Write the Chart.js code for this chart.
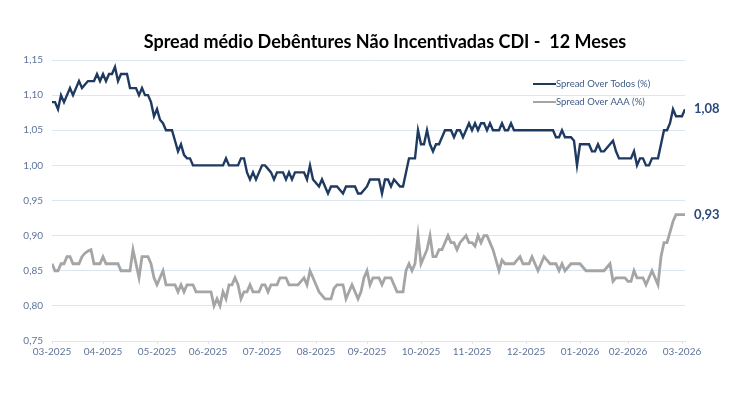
<!DOCTYPE html>
<html>
<head>
<meta charset="utf-8">
<script src="https://cdn.jsdelivr.net/npm/chart.js@4.4.1/dist/chart.umd.min.js"></script>
<style>
	html, body { margin: 0; padding: 0; background: #ffffff; }
	#wrap { width: 738px; height: 397px; }
</style>
</head>
<body>
<div id="wrap"><canvas id="spread_chart" width="738" height="397"></canvas></div>
<script>
// leituras diárias (aprox.) de 03-2025 a 03-2026
const spreadTodos = [
	1.09,1.09,1.08,1.10,1.09,1.10,1.11,1.10,1.11,1.12,
	1.11,1.115,1.12,1.12,1.12,1.13,1.12,1.13,1.12,1.13,
	1.13,1.14,1.12,1.13,1.13,1.13,1.11,1.11,1.11,1.10,
	1.11,1.10,1.10,1.09,1.07,1.08,1.065,1.06,1.05,1.05,
	1.05,1.035,1.02,1.03,1.015,1.01,1.01,1.00,1.00,1.00,
	1.00,1.00,1.00,1.00,1.00,1.00,1.00,1.00,1.01,1.00,
	1.00,1.00,1.00,1.01,1.01,0.99,0.98,0.99,0.98,0.99,
	1.00,1.00,0.995,0.99,0.98,0.99,0.99,0.99,0.98,0.99,
	0.98,0.99,0.99,0.99,0.99,0.98,1.00,0.98,0.975,0.97,
	0.98,0.97,0.96,0.97,0.97,0.97,0.965,0.96,0.97,0.97,
	0.97,0.97,0.96,0.96,0.965,0.97,0.98,0.98,0.98,0.98,
	0.96,0.98,0.98,0.97,0.98,0.975,0.97,0.97,0.99,1.01,
	1.01,1.01,1.05,1.03,1.03,1.05,1.03,1.02,1.03,1.03,
	1.04,1.05,1.05,1.05,1.04,1.05,1.05,1.04,1.05,1.06,
	1.05,1.06,1.05,1.06,1.06,1.05,1.06,1.05,1.05,1.05,
	1.06,1.05,1.05,1.06,1.05,1.05,1.05,1.05,1.05,1.05,
	1.05,1.05,1.05,1.05,1.05,1.05,1.05,1.05,1.04,1.04,
	1.05,1.04,1.04,1.04,1.035,1.00,1.03,1.03,1.03,1.03,
	1.02,1.02,1.03,1.02,1.02,1.025,1.03,1.035,1.02,1.01,
	1.01,1.01,1.01,1.01,1.02,1.00,1.01,1.01,1.00,1.00,
	1.01,1.01,1.01,1.03,1.05,1.05,1.06,1.08,1.07,1.07,
	1.07,1.08
];

const spreadAAA = [
	0.86,0.85,0.85,0.86,0.86,0.87,0.87,0.86,0.86,0.86,
	0.87,0.875,0.878,0.88,0.86,0.86,0.86,0.87,0.86,0.86,
	0.86,0.86,0.86,0.85,0.85,0.85,0.85,0.88,0.86,0.84,
	0.87,0.87,0.87,0.86,0.84,0.83,0.84,0.85,0.83,0.83,
	0.83,0.83,0.82,0.83,0.82,0.83,0.83,0.83,0.82,0.82,
	0.82,0.82,0.82,0.82,0.80,0.81,0.80,0.82,0.81,0.83,
	0.83,0.84,0.83,0.81,0.82,0.82,0.83,0.82,0.82,0.82,
	0.83,0.83,0.82,0.83,0.83,0.83,0.84,0.84,0.84,0.83,
	0.83,0.83,0.83,0.835,0.84,0.83,0.85,0.84,0.83,0.82,
	0.815,0.81,0.81,0.81,0.825,0.83,0.83,0.83,0.81,0.82,
	0.83,0.82,0.81,0.82,0.84,0.85,0.83,0.84,0.84,0.84,
	0.83,0.84,0.84,0.84,0.83,0.82,0.82,0.82,0.85,0.86,
	0.85,0.86,0.90,0.86,0.87,0.88,0.90,0.87,0.87,0.88,
	0.88,0.89,0.90,0.89,0.89,0.88,0.89,0.895,0.90,0.89,
	0.89,0.885,0.90,0.89,0.90,0.90,0.89,0.88,0.865,0.85,
	0.865,0.86,0.86,0.86,0.86,0.865,0.87,0.86,0.86,0.86,
	0.87,0.86,0.85,0.86,0.87,0.865,0.86,0.86,0.86,0.85,
	0.86,0.85,0.855,0.86,0.86,0.86,0.86,0.855,0.85,0.85,
	0.85,0.85,0.85,0.85,0.85,0.855,0.86,0.835,0.84,0.84,
	0.84,0.84,0.835,0.835,0.85,0.84,0.84,0.84,0.83,0.84,
	0.85,0.84,0.83,0.87,0.89,0.89,0.905,0.92,0.93,0.93,
	0.93,0.93
];

const monthLabels = ['03-2025','04-2025','05-2025','06-2025','07-2025','08-2025','09-2025',
	'10-2025','11-2025','12-2025','01-2026','02-2026','03-2026'];
const monthStart = [0,17,35,52,70,88,105,123,140,158,176,192,210];

const seriesNames = ['Spread Over Todos (%)', 'Spread Over AAA (%)'];
const chartTitle = 'Spread médio Debêntures Não Incentivadas CDI -  12 Meses';

const FONT = 'Lato, "Noto Sans", sans-serif';
const TICK_COLOR = '#5f7499';
const GRID_COLOR = '#dbe6f3';
const COLORS = ['#1f3a60', '#a5a5a5'];

const fmt = v => v.toFixed(2).replace('.', ',');

// titulo, legenda e rotulos finais
const overlay = {
	id: 'overlay',
	afterDraw(chart) {
		var ctx = chart.ctx;
		ctx.save();
		ctx.fillStyle = '#000000';
		ctx.font = 'bold 18px ' + FONT;
		ctx.textAlign = 'center';
		ctx.textBaseline = 'middle';
		ctx.fillText(chartTitle, 385, 42);

		// legenda
		ctx.font = '9.5px ' + FONT;
		ctx.textAlign = 'left';
		seriesNames.forEach(function (name, i) {
			var y = 84 + i * 18;
			ctx.strokeStyle = COLORS[i];
			ctx.lineWidth = 2;
			ctx.beginPath();
			ctx.moveTo(533, y);
			ctx.lineTo(556, y);
			ctx.stroke();
			ctx.fillStyle = '#3d5a88';
			ctx.fillText(name, 556, y);
		});

		// ultimo valor
		var yScale = chart.scales.y;
		ctx.font = 'bold 13px ' + FONT;
		ctx.fillStyle = '#2b4a7a';
		[spreadTodos, spreadAAA].forEach(function (arr) {
			var last = arr[arr.length - 1];
			ctx.fillText(fmt(last), 694, yScale.getPixelForValue(last));
		});
		ctx.restore();
	}
};

new Chart('spread_chart', {
	type: 'line',
	data: {
		labels: spreadTodos.map((v, i) => i),
		datasets: [{
			label: seriesNames[0],
			data: spreadTodos,
			borderColor: COLORS[0],
			borderWidth: 2.4,
			pointRadius: 0,
			tension: 0,
		}, {
			label: seriesNames[1],
			data: spreadAAA,
			borderColor: COLORS[1],
			borderWidth: 2.8,
			pointRadius: 0,
			tension: 0,
		}],
	},
	options: {
		responsive: false,
		animation: false,
		layout: {
			padding: {top: 60, right: 53, bottom: 0, left: 0},
		},
		plugins: {
			legend: {display: false},
			title: {display: false},
			tooltip: {enabled: false},
		},
		scales: {
			x: {
				type: 'linear',
				min: 0,
				max: spreadTodos.length - 1,
				afterBuildTicks(scale) {
					scale.ticks = monthStart.map(v => ({value: v}));
				},
				afterFit(scale) {
					scale.height = 56;
				},
				grid: {
					drawOnChartArea: false,
					drawTicks: true,
					tickLength: 3,
					color: GRID_COLOR,
				},
				border: {color: GRID_COLOR},
				ticks: {
					autoSkip: false,
					maxRotation: 0,
					padding: 2,
					color: TICK_COLOR,
					font: {family: FONT, size: 10},
					callback: function (v) {
						var k = monthStart.indexOf(v);
						return k >= 0 ? monthLabels[k] : '';
					},
				},
			},
			y: {
				min: 0.75,
				max: 1.15,
				afterFit(scale) {
					scale.width = 52;
				},
				grid: {
					color: GRID_COLOR,
					drawTicks: false,
				},
				border: {display: false},
				ticks: {
					stepSize: 0.05,
					padding: 9,
					color: TICK_COLOR,
					font: {family: FONT, size: 10},
					callback: v => fmt(v),
				},
			},
		},
	},
	plugins: [overlay],
});
</script>
</body>
</html>
